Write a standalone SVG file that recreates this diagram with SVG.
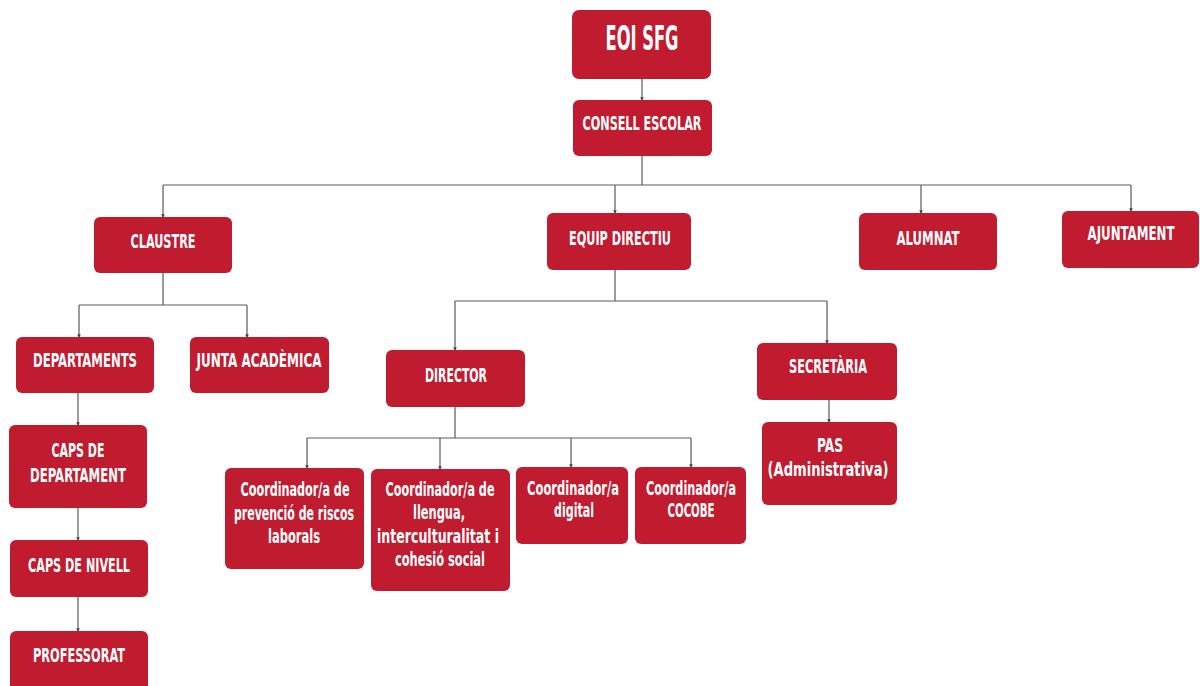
<svg xmlns="http://www.w3.org/2000/svg" width="1200" height="686" viewBox="0 0 1200 686">
<style>
.box{fill:#C11B30}
.t{fill:#FFFFFF;font-family:"DejaVu Sans Condensed","DejaVu Sans","Liberation Sans",sans-serif;font-weight:bold;font-size:20px;text-anchor:middle}
.s{font-size:19px}
.c{fill:none;stroke:#5a5a5a;stroke-width:1.2}
</style>
<defs>
<marker id="ah" viewBox="0 0 4 4" refX="3" refY="2" markerWidth="3" markerHeight="3" orient="auto">
<path d="M0,0 L4,2 L0,4 z" fill="#444"/>
</marker>
</defs>
<rect width="1200" height="686" fill="#FFFFFF"/>
<g id="connectors">
<path class="c" d="M642 79 V100" marker-end="url(#ah)"/>
<path class="c" d="M642 156 V185"/>
<path class="c" d="M163 185 H1131"/>
<path class="c" d="M163 185 V217" marker-end="url(#ah)"/>
<path class="c" d="M615 185 V213" marker-end="url(#ah)"/>
<path class="c" d="M921 185 V213" marker-end="url(#ah)"/>
<path class="c" d="M1131 185 V211" marker-end="url(#ah)"/>
<path class="c" d="M163 273 V305"/>
<path class="c" d="M79 305 H247"/>
<path class="c" d="M79 305 V337" marker-end="url(#ah)"/>
<path class="c" d="M247 305 V337" marker-end="url(#ah)"/>
<path class="c" d="M78 393 V425" marker-end="url(#ah)"/>
<path class="c" d="M78 508 V540" marker-end="url(#ah)"/>
<path class="c" d="M78 597 V631" marker-end="url(#ah)"/>
<path class="c" d="M615 270 V301"/>
<path class="c" d="M455 301 H827"/>
<path class="c" d="M455 301 V350" marker-end="url(#ah)"/>
<path class="c" d="M827 301 V343" marker-end="url(#ah)"/>
<path class="c" d="M829 400 V422" marker-end="url(#ah)"/>
<path class="c" d="M455 407 V438"/>
<path class="c" d="M307 438 H691"/>
<path class="c" d="M307 438 V468" marker-end="url(#ah)"/>
<path class="c" d="M440 438 V469" marker-end="url(#ah)"/>
<path class="c" d="M571 438 V467" marker-end="url(#ah)"/>
<path class="c" d="M691 438 V467" marker-end="url(#ah)"/>
</g>
<g id="eoi-sfg">
<rect class="box" x="572" y="10" width="139" height="69" rx="7"/>
<text class="t" x="642" y="50" style="font-size:34px" textLength="73" lengthAdjust="spacingAndGlyphs">EOI SFG</text>
</g>
<g id="consell-escolar">
<rect class="box" x="573" y="100" width="139" height="56" rx="6"/>
<text class="t" x="642" y="130" textLength="119" lengthAdjust="spacingAndGlyphs">CONSELL ESCOLAR</text>
</g>
<g id="claustre">
<rect class="box" x="94" y="217" width="138" height="56" rx="6"/>
<text class="t" x="163" y="248" textLength="65" lengthAdjust="spacingAndGlyphs">CLAUSTRE</text>
</g>
<g id="equip-directiu">
<rect class="box" x="547" y="213" width="144" height="57" rx="6"/>
<text class="t" x="620" y="245" textLength="102" lengthAdjust="spacingAndGlyphs">EQUIP DIRECTIU</text>
</g>
<g id="alumnat">
<rect class="box" x="859" y="213" width="138" height="57" rx="6"/>
<text class="t" x="928" y="245" textLength="63" lengthAdjust="spacingAndGlyphs">ALUMNAT</text>
</g>
<g id="ajuntament">
<rect class="box" x="1062" y="211" width="137" height="57" rx="6"/>
<text class="t" x="1131" y="240" textLength="87" lengthAdjust="spacingAndGlyphs">AJUNTAMENT</text>
</g>
<g id="departaments">
<rect class="box" x="16" y="337" width="138" height="56" rx="6"/>
<text class="t" x="85" y="367" textLength="104" lengthAdjust="spacingAndGlyphs">DEPARTAMENTS</text>
</g>
<g id="junta-academica">
<rect class="box" x="190" y="337" width="139" height="56" rx="6"/>
<text class="t" x="259" y="367" textLength="125" lengthAdjust="spacingAndGlyphs">JUNTA ACADÈMICA</text>
</g>
<g id="caps-de-departament">
<rect class="box" x="9" y="425" width="138" height="83" rx="6"/>
<text class="t" x="78" y="457" textLength="53" lengthAdjust="spacingAndGlyphs">CAPS DE</text>
<text class="t" x="78" y="482" textLength="96" lengthAdjust="spacingAndGlyphs">DEPARTAMENT</text>
</g>
<g id="caps-de-nivell">
<rect class="box" x="10" y="540" width="138" height="57" rx="6"/>
<text class="t" x="79" y="572" textLength="102" lengthAdjust="spacingAndGlyphs">CAPS DE NIVELL</text>
</g>
<g id="professorat">
<rect class="box" x="10" y="631" width="138" height="62" rx="6"/>
<text class="t" x="79" y="662" textLength="92" lengthAdjust="spacingAndGlyphs">PROFESSORAT</text>
</g>
<g id="director">
<rect class="box" x="386" y="350" width="139" height="57" rx="6"/>
<text class="t" x="456" y="382" textLength="62" lengthAdjust="spacingAndGlyphs">DIRECTOR</text>
</g>
<g id="secretaria">
<rect class="box" x="757" y="343" width="140" height="57" rx="6"/>
<text class="t" x="828" y="373" textLength="78" lengthAdjust="spacingAndGlyphs">SECRETÀRIA</text>
</g>
<g id="pas">
<rect class="box" x="762" y="422" width="135" height="83" rx="6"/>
<text class="t" x="830" y="452" textLength="26" lengthAdjust="spacingAndGlyphs">PAS</text>
<text class="t s" x="828" y="476" textLength="121" lengthAdjust="spacingAndGlyphs">(Administrativa)</text>
</g>
<g id="coord-riscos">
<rect class="box" x="225" y="468" width="139" height="101" rx="6"/>
<text class="t s" x="295" y="496" textLength="109" lengthAdjust="spacingAndGlyphs">Coordinador/a de</text>
<text class="t s" x="294" y="520" textLength="120" lengthAdjust="spacingAndGlyphs">prevenció de riscos</text>
<text class="t s" x="294" y="543" textLength="52" lengthAdjust="spacingAndGlyphs">laborals</text>
</g>
<g id="coord-llengua">
<rect class="box" x="371" y="469" width="139" height="122" rx="6"/>
<text class="t s" x="440" y="496" textLength="109" lengthAdjust="spacingAndGlyphs">Coordinador/a de</text>
<text class="t s" x="439" y="519" textLength="52" lengthAdjust="spacingAndGlyphs">llengua,</text>
<text class="t s" x="438" y="543" textLength="122" lengthAdjust="spacingAndGlyphs">interculturalitat i</text>
<text class="t s" x="440" y="566" textLength="90" lengthAdjust="spacingAndGlyphs">cohesió social</text>
</g>
<g id="coord-digital">
<rect class="box" x="516" y="467" width="112" height="77" rx="6"/>
<text class="t s" x="573" y="495" textLength="92" lengthAdjust="spacingAndGlyphs">Coordinador/a</text>
<text class="t s" x="574" y="517" textLength="40" lengthAdjust="spacingAndGlyphs">digital</text>
</g>
<g id="coord-cocobe">
<rect class="box" x="635" y="467" width="111" height="77" rx="6"/>
<text class="t s" x="691" y="495" textLength="90" lengthAdjust="spacingAndGlyphs">Coordinador/a</text>
<text class="t s" x="691" y="517" textLength="47" lengthAdjust="spacingAndGlyphs">COCOBE</text>
</g>
</svg>
